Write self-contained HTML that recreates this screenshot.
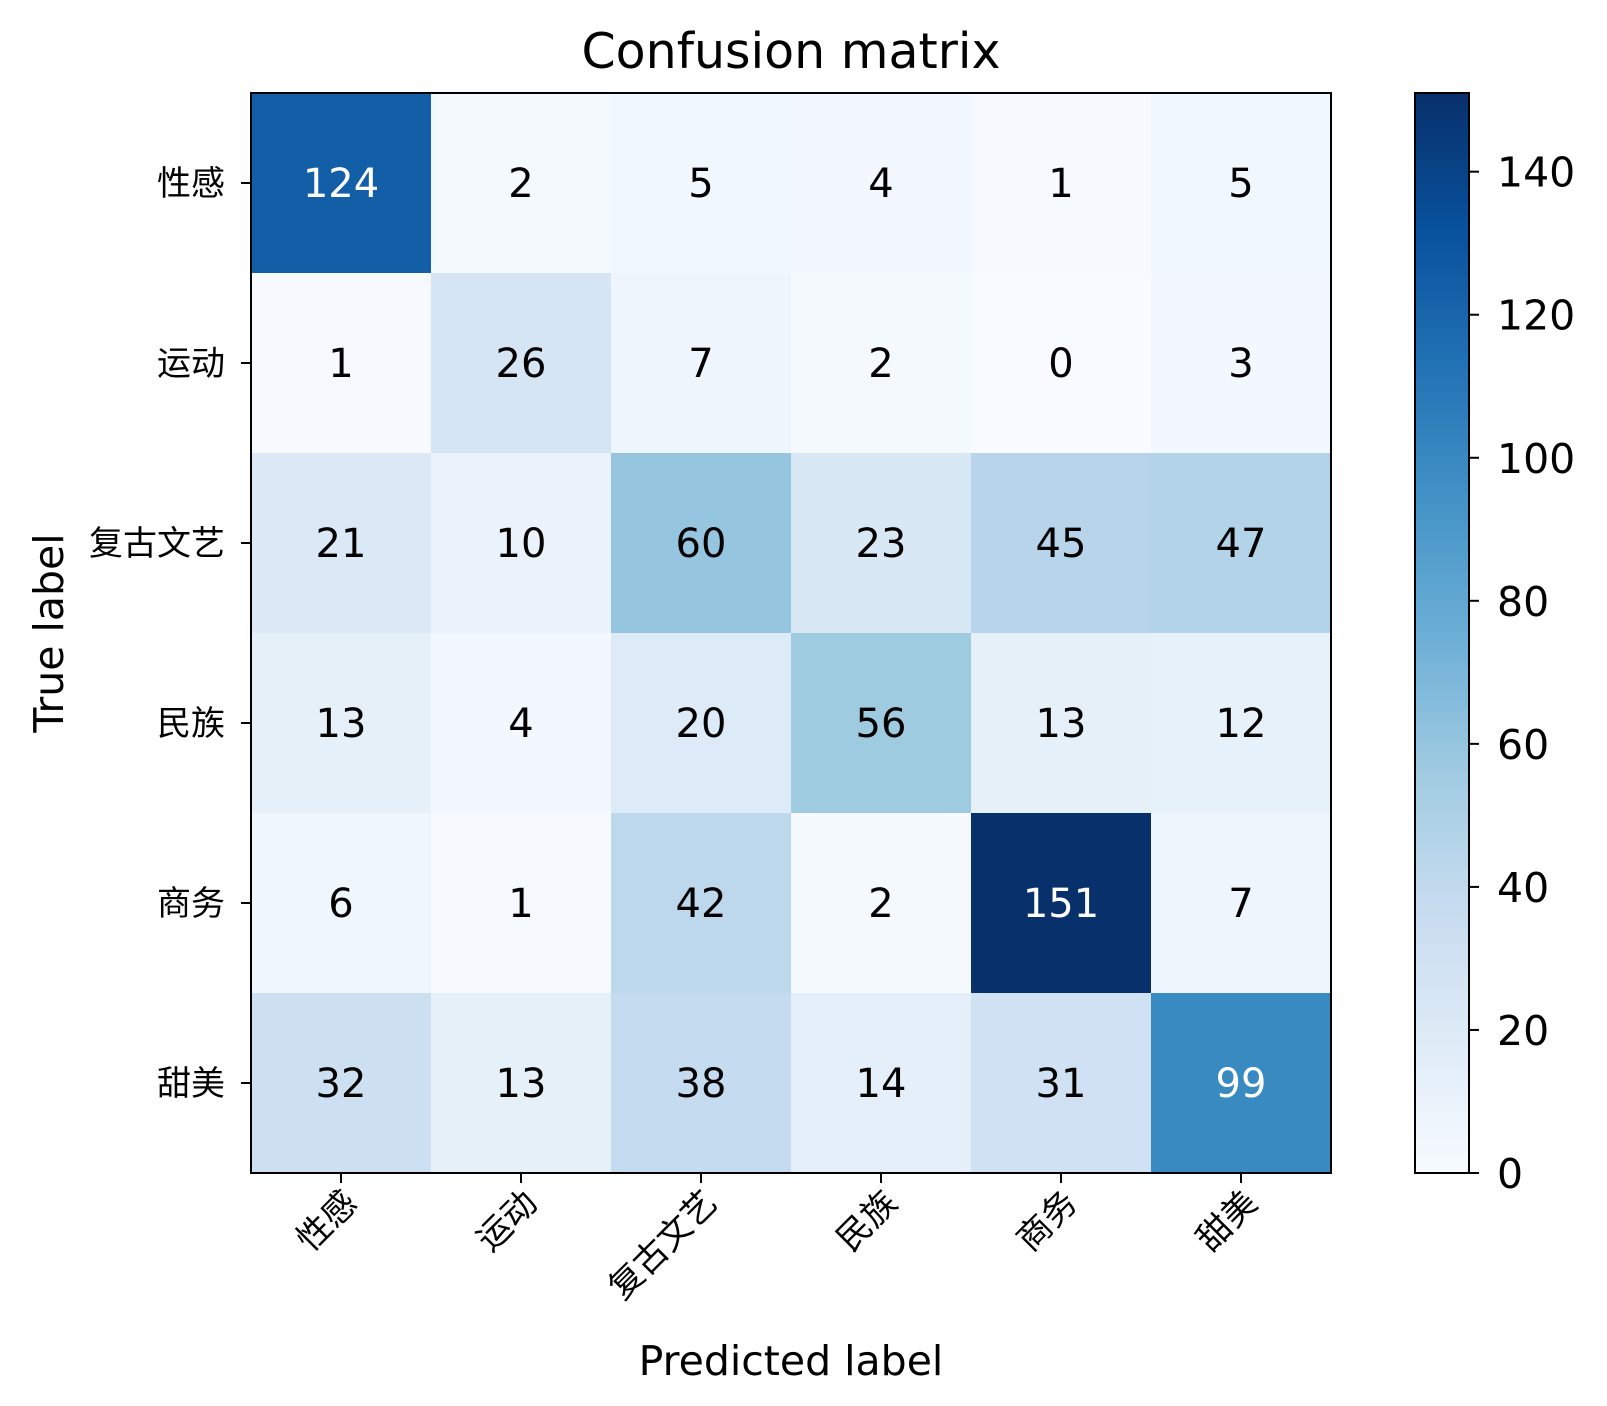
<!DOCTYPE html>
<html><head><meta charset="utf-8"><style>
html,body{margin:0;padding:0;background:#fff}
svg{display:block}
text{font-family:"DejaVu Sans","Liberation Sans","Noto Sans CJK SC",sans-serif;fill:#000}
.cjk{font-family:"Noto Sans CJK SC","WenQuanYi Zen Hei",sans-serif}
</style></head><body>
<svg id="chart" width="1607" height="1406" viewBox="0 0 1607 1406" xmlns="http://www.w3.org/2000/svg">
<defs><linearGradient id="cbg" x1="0" y1="1" x2="0" y2="0">
<stop offset="0" stop-color="#f7fbff"/><stop offset="0.125" stop-color="#deebf7"/><stop offset="0.25" stop-color="#c6dbef"/><stop offset="0.375" stop-color="#9ecae1"/><stop offset="0.5" stop-color="#6baed6"/><stop offset="0.625" stop-color="#4292c6"/><stop offset="0.75" stop-color="#2171b5"/><stop offset="0.875" stop-color="#08519c"/><stop offset="1" stop-color="#08306b"/>
</linearGradient></defs>
<text x="791" y="68" font-size="49" text-anchor="middle">Confusion matrix</text>
<g id="cells"></g>
<rect x="251" y="93" width="1080" height="1080" fill="none" stroke="#000" stroke-width="2"/>
<g id="axes"></g>
<text transform="translate(63,633) rotate(-90)" font-size="41" text-anchor="middle">True label</text>
<text x="791" y="1375" font-size="41" text-anchor="middle">Predicted label</text>
<rect x="1415" y="93" width="54" height="1080" fill="url(#cbg)" stroke="#000" stroke-width="2"/>
<g id="cbar"></g>
</svg>
<script>
const categories = ["性感","运动","复古文艺","民族","商务","甜美"];
const row0 = [124,2,5,4,1,5];
const row1 = [1,26,7,2,0,3];
const row2 = [21,10,60,23,45,47];
const row3 = [13,4,20,56,13,12];
const row4 = [6,1,42,2,151,7];
const row5 = [32,13,38,14,31,99];
const matrix = [row0,row1,row2,row3,row4,row5];
const cbarTicks = [0,20,40,60,80,100,120,140];

const NS="http://www.w3.org/2000/svg";
const X0=251,Y0=93,W=1080,H=1080;
const n=categories.length, cw=W/n, ch=H/n;
let vmax=0; matrix.forEach(r=>r.forEach(v=>{if(v>vmax)vmax=v;}));
const stops=[[0,[247,251,255]],[0.125,[222,235,247]],[0.25,[198,219,239]],[0.375,[158,202,225]],[0.5,[107,174,214]],[0.625,[66,146,198]],[0.75,[33,113,181]],[0.875,[8,81,156]],[1,[8,48,107]]];
function color(v){let t=Math.max(0,Math.min(1,v/vmax));for(let i=1;i<stops.length;i++){if(t<=stops[i][0]){const a=stops[i-1],b=stops[i];const f=(t-a[0])/(b[0]-a[0]);const c=a[1].map((x,k)=>Math.round(x+(b[1][k]-x)*f));return `rgb(${c})`;}}return 'rgb(8,48,107)';}
function xs(j){return X0+j*cw;}
function ys(i){return Y0+i*ch;}
function cy(v){return Y0+H-v/vmax*H;}
function mk(tag,attrs,parent){const e=document.createElementNS(NS,tag);for(const k in attrs)e.setAttribute(k,attrs[k]);parent.appendChild(e);return e;}
const cells=document.getElementById('cells'),axes=document.getElementById('axes'),cbar=document.getElementById('cbar');
matrix.forEach((r,i)=>r.forEach((v,j)=>{
 const rc=mk('rect',{x:xs(j),y:ys(i),width:cw+0.5,height:ch+0.5,fill:color(v)},cells);
 
 
 const t=mk('text',{x:xs(j)+cw/2,y:ys(i)+ch/2+14,'font-size':40,'text-anchor':'middle'},cells);
 
 
 t.style.fill = v>vmax/2 ? '#fff' : '#000';
 t.textContent=v;
}));
categories.forEach((c,i)=>{
 const y=ys(i)+ch/2;
 mk('line',{x1:X0-10,x2:X0,y1:y,y2:y,stroke:'#000','stroke-width':2},axes);
 const t=mk('text',{x:X0-26,y:y+12,'font-size':34,'text-anchor':'end',class:'cjk'},axes);
 
 
 t.textContent=c;
 const x=xs(i)+cw/2;
 mk('line',{x1:x,x2:x,y1:Y0+H,y2:Y0+H+10,stroke:'#000','stroke-width':2},axes);
 const u=mk('text',{transform:`translate(${x+18},${Y0+H+32}) rotate(-45)`,'font-size':34,'text-anchor':'end',class:'cjk'},axes);
 
 
 u.textContent=c;
});
cbarTicks.forEach(v=>{
 const y=cy(v);
 mk('line',{x1:1469,x2:1479,y1:y,y2:y,stroke:'#000','stroke-width':2},cbar);
 const t=mk('text',{x:1497,y:y+15,'font-size':41},cbar);
 
 
 t.textContent=v;
});
</script>
</body></html>
